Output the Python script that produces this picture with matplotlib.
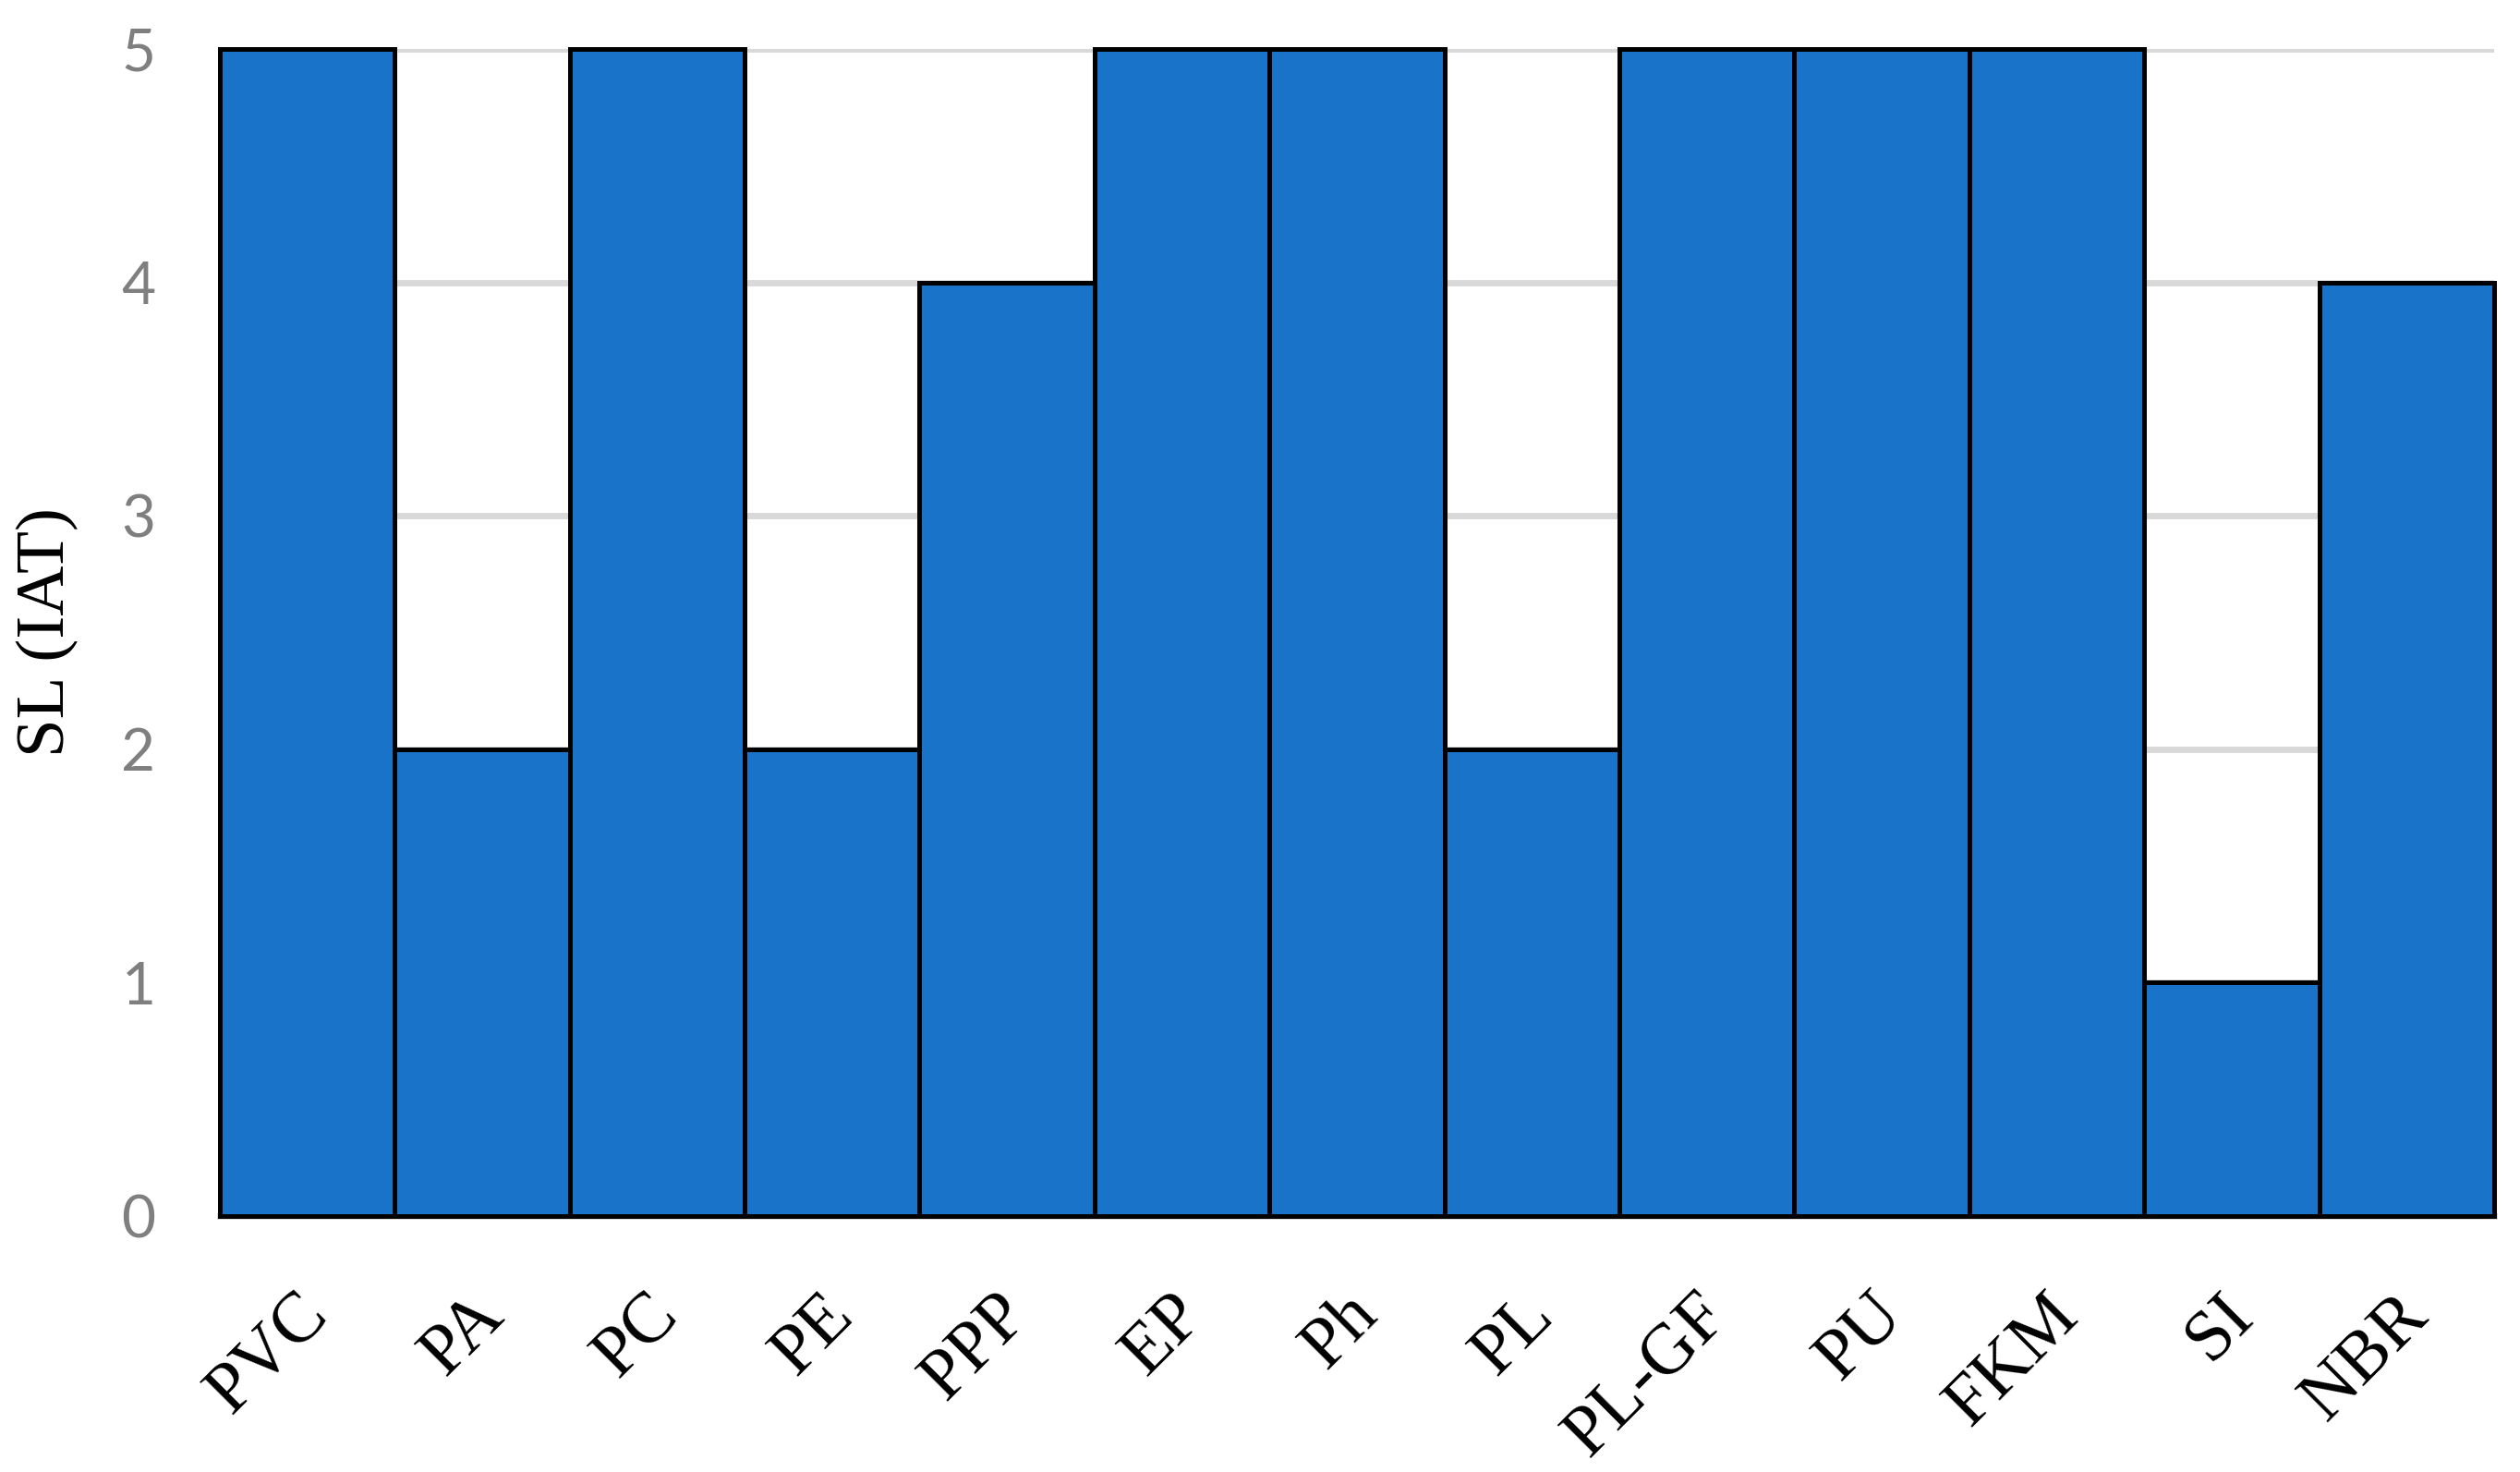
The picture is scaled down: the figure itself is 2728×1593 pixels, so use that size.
import matplotlib.pyplot as plt
from matplotlib.transforms import ScaledTranslation

materials = ['PVC', 'PA', 'PC', 'PE', 'PPP', 'EP', 'Ph', 'PL', 'PL-GF', 'PU', 'FKM', 'SI', 'NBR']
sl_iat = [5, 2, 5, 2, 4, 5, 5, 2, 5, 5, 5, 1, 4]
y_ticks = [0, 1, 2, 3, 4, 5]

fig = plt.figure(figsize=(27.28, 15.93), dpi=100)
ax = fig.add_axes([0.0872, 0.1739, 0.9025, 0.7928])

x = range(len(materials))
ax.bar(x, sl_iat, width=1.0, color='#1873C9', edgecolor='black', linewidth=3.6,
       zorder=3, clip_on=False)

ax.set_xlim(-0.5, len(materials) - 0.5)
ax.set_ylim(0, 5)
ax.set_yticks(y_ticks)
ax.set_yticklabels([str(v) for v in y_ticks], fontfamily='Lato', fontsize=46, color='#7F7F7F')
ax.set_xticks(list(x))
ax.set_xticklabels(materials, fontfamily='Liberation Serif', fontsize=56,
                   rotation=45, ha='right', va='center', rotation_mode='anchor')
ax.tick_params(axis='both', length=0)
ax.tick_params(axis='y', pad=50)
ax.tick_params(axis='x', pad=62)

# nudge the rotated labels a little right and down (after tick_params, which resets transforms)
shift = ScaledTranslation(0.12, -0.1, fig.dpi_scale_trans)
for lbl in ax.get_xticklabels():
    lbl.set_transform(lbl.get_transform() + shift)

ax.yaxis.grid(True, color='#D9D9D9', linewidth=5, zorder=0)
ax.set_axisbelow(True)
for s in ['top', 'right', 'left']:
    ax.spines[s].set_visible(False)
ax.spines['bottom'].set_color('#D9D9D9')
ax.spines['bottom'].set_linewidth(5)
ax.spines['bottom'].set_zorder(2)

ax.set_ylabel('SL (IAT)', fontfamily='Liberation Serif', fontsize=54, labelpad=33)

fig.savefig('out.png', dpi=100)
